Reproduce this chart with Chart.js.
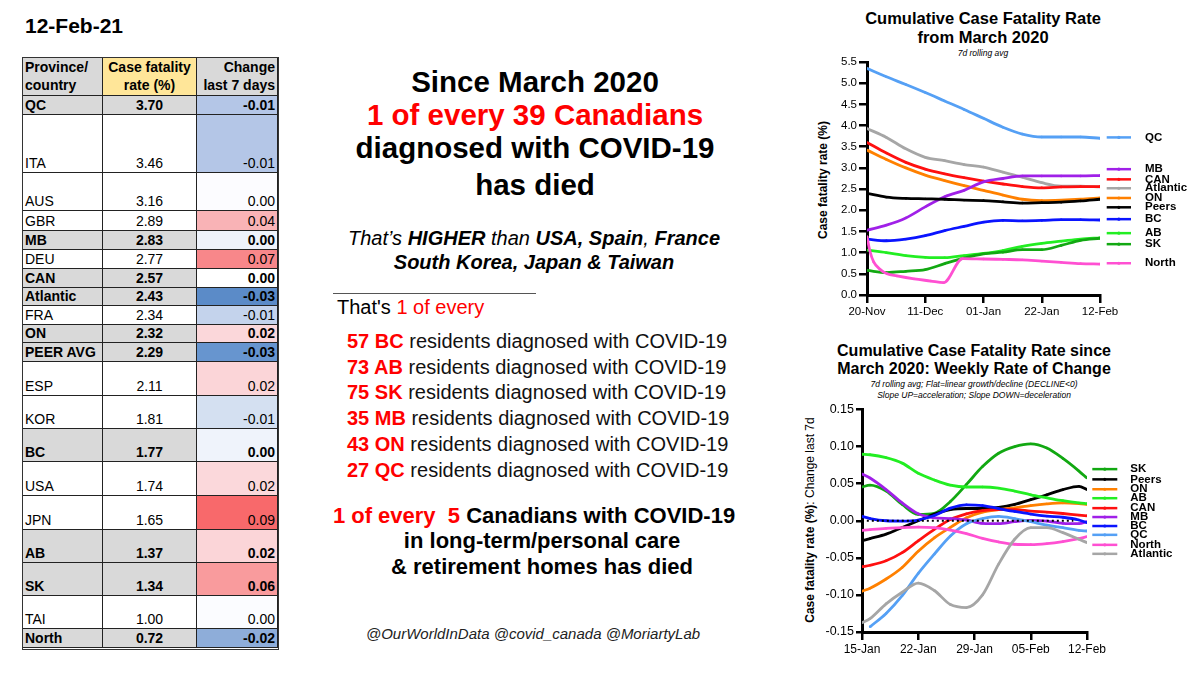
<!DOCTYPE html>
<html>
<head>
<meta charset="utf-8">
<script src="https://cdn.jsdelivr.net/npm/chart.js@4.4.1/dist/chart.umd.min.js"></script>
<style>
  body { margin: 0; width: 1200px; height: 675px; background: #fff; position: relative; overflow: hidden;
         font-family: "Liberation Sans", Arial, sans-serif; color: #000; }
  .abs { position: absolute; white-space: nowrap; }
  .ctr { transform: translateX(-50%); text-align: center; }
  .red { color: #ff0000; }
  .b { font-weight: bold; }
  .cell { position: absolute; box-sizing: border-box; border-right: 1px solid #222; border-bottom: 1px solid #222;
          display: flex; align-items: flex-end; font-size: 14px; line-height: 16px; padding: 0 2px 1px 2px; }
  .head { font-weight: bold; line-height: 18px; }
  .vtitle { position: absolute; white-space: nowrap; font-size: 12px; transform: translate(-50%, -50%) rotate(-90deg); }
  canvas { position: absolute; }
</style>
</head>
<body>

<div class="abs b" style="left:25px; top:14px; font-size:21px;">12-Feb-21</div>
<div id="table"></div>

<!-- middle text -->
<div class="abs ctr b" style="left:535px; top:65px; font-size:29.5px; line-height:34px;">Since March 2020</div>
<div class="abs ctr b red" style="left:535px; top:98px; font-size:29.5px; line-height:34px;">1 of every 39 Canadians</div>
<div class="abs ctr b" style="left:535px; top:131px; font-size:29.5px; line-height:34px;">diagnosed with COVID-19</div>
<div class="abs ctr b" style="left:535px; top:168px; font-size:29.5px; line-height:34px;">has died</div>

<div class="abs ctr" style="left:534px; top:226px; font-size:20px; line-height:24px; font-style:italic;">That’s <b>HIGHER</b> than <b>USA,</b> <b>Spain</b>, <b>France</b></div>
<div class="abs ctr b" style="left:534px; top:250px; font-size:20px; line-height:24px; font-style:italic;">South Korea, Japan &amp; Taiwan</div>
<div class="abs" style="left:333px; top:293px; width:203px; height:0; border-top:1.5px solid #555;"></div>

<div class="abs" style="left:337px; top:295px; font-size:20px; line-height:24px;">That's <span class="red">1 of every</span></div>
<div id="perProvince"></div>

<div class="abs ctr b" style="left:534px; top:503px; font-size:22px; line-height:26px;"><span class="red">1 of every&nbsp; 5</span> Canadians with COVID-19</div>
<div class="abs ctr b" style="left:542px; top:528px; font-size:22px; line-height:26px;">in long-term/personal care</div>
<div class="abs ctr b" style="left:542px; top:554px; font-size:22px; line-height:26px;">&amp; retirement homes has died</div>

<div class="abs ctr" style="left:533px; top:625px; font-size:15px; line-height:18px; font-style:italic; color:#222;">@OurWorldInData @covid_canada @MoriartyLab</div>

<!-- top chart -->
<div class="abs ctr b" style="left:983px; top:8px; font-size:16.5px; line-height:20px;">Cumulative Case Fatality Rate</div>
<div class="abs ctr b" style="left:983px; top:27px; font-size:16.5px; line-height:20px;">from March 2020</div>
<div class="abs ctr" style="left:983px; top:48px; font-size:8.5px; line-height:11px; font-style:italic;">7d rolling avg</div>
<div class="vtitle" style="left:823px; top:180px;"><b>Case fatality rate (%)</b></div>
<canvas id="cfrChart" width="410" height="275" style="left:790px; top:50px;"></canvas>

<!-- bottom chart -->
<div class="abs ctr b" style="left:974px; top:341px; font-size:16px; line-height:20px;">Cumulative Case Fatality Rate since</div>
<div class="abs ctr b" style="left:974px; top:359px; font-size:16px; line-height:20px;">March 2020: Weekly Rate of Change</div>
<div class="abs ctr" style="left:974px; top:379px; font-size:8.5px; line-height:11px; font-style:italic;">7d rolling avg; Flat=linear growth/decline (DECLINE&lt;0)</div>
<div class="abs ctr" style="left:974px; top:390px; font-size:8.5px; line-height:11px; font-style:italic;">Slope UP=acceleration; Slope DOWN=deceleration</div>
<div class="vtitle" style="left:810px; top:520px;"><b>Case fatality rate (%)</b>: Change last 7d</div>
<canvas id="changeChart" width="410" height="275" style="left:790px; top:400px;"></canvas>

<script>
// ---- table data ----
const regions = ['QC', 'ITA', 'AUS', 'GBR', 'MB', 'DEU', 'CAN', 'Atlantic', 'FRA', 'ON', 'PEER AVG',
                 'ESP', 'KOR', 'BC', 'USA', 'JPN', 'AB', 'SK', 'TAI', 'North'];
const fatalityRate = [3.70, 3.46, 3.16, 2.89, 2.83, 2.77, 2.57, 2.43, 2.34, 2.32, 2.29,
                      2.11, 1.81, 1.77, 1.74, 1.65, 1.37, 1.34, 1.00, 0.72];
const change7d = [-0.01, -0.01, 0.00, 0.04, 0.00, 0.07, 0.00, -0.03, -0.01, 0.02, -0.03,
                  0.02, -0.01, 0.00, 0.02, 0.09, 0.02, 0.06, 0.00, -0.02];
const canadianRows = ['QC', 'MB', 'CAN', 'Atlantic', 'ON', 'PEER AVG', 'BC', 'AB', 'SK', 'North'];

// ---- "1 of every N residents" ----
const oneInN = [57, 73, 75, 35, 43, 27];
const oneInNProv = ['BC', 'AB', 'SK', 'MB', 'ON', 'QC'];

// ---- top chart: cumulative CFR, days from 20-Nov ----
const topTickDays = [0, 21, 42, 63, 84];
const topTickLabels = ['20-Nov', '11-Dec', '01-Jan', '22-Jan', '12-Feb'];
const topYTicks = [0, 0.5, 1, 1.5, 2, 2.5, 3, 3.5, 4, 4.5, 5, 5.5];
const topDays = [0, 7, 14, 21, 28, 35, 42, 49, 56, 63, 70, 77, 84];
const qcCfr       = [5.35, 5.15, 4.97, 4.78, 4.58, 4.38, 4.17, 3.96, 3.80, 3.73, 3.73, 3.73, 3.70];
const atlanticCfr = [3.93, 3.72, 3.45, 3.25, 3.17, 3.08, 3.02, 2.90, 2.78, 2.65, 2.57, 2.57, 2.55];
const canCfr      = [3.60, 3.35, 3.13, 2.97, 2.86, 2.77, 2.69, 2.62, 2.56, 2.53, 2.55, 2.56, 2.56];
const onCfr       = [3.42, 3.20, 3.00, 2.83, 2.70, 2.58, 2.47, 2.36, 2.26, 2.23, 2.24, 2.26, 2.29];
const peersCfr    = [2.40, 2.31, 2.28, 2.27, 2.26, 2.24, 2.23, 2.20, 2.17, 2.18, 2.19, 2.22, 2.26];
const mbCfr       = [1.53, 1.65, 1.82, 2.08, 2.32, 2.47, 2.67, 2.75, 2.81, 2.81, 2.81, 2.81, 2.82];
const bcCfr       = [1.32, 1.28, 1.32, 1.40, 1.52, 1.62, 1.72, 1.76, 1.75, 1.76, 1.78, 1.78, 1.77];
const abCfr       = [1.06, 1.00, 0.93, 0.89, 0.88, 0.93, 0.98, 1.05, 1.15, 1.22, 1.27, 1.32, 1.35];
const skCfr       = [0.58, 0.53, 0.56, 0.60, 0.74, 0.87, 0.97, 1.01, 1.07, 1.07, 1.17, 1.29, 1.34];
const northDays   = [0, 1, 2.4, 4.8, 7.2, 10.8, 17, 23, 27.6, 34.5, 42, 49, 56, 63, 70, 77, 84];
const northCfr    = [1.38, 1.05, 0.78, 0.60, 0.50, 0.45, 0.38, 0.33, 0.29, 0.86, 0.85, 0.84, 0.83, 0.80, 0.77, 0.74, 0.73];

// ---- bottom chart: change over last 7 days, days from 15-Jan ----
const botTickDays = [0, 7, 14, 21, 28];
const botTickLabels = ['15-Jan', '22-Jan', '29-Jan', '05-Feb', '12-Feb'];
const botYTicks = [-0.15, -0.10, -0.05, 0, 0.05, 0.10, 0.15];
const botDays = [0, 1, 3, 5, 7, 9, 11, 13, 15, 17, 19, 21, 23, 25, 27, 28];
const skChg       = [0.0455, 0.048, 0.040, 0.022, 0.0085, 0.010, 0.026, 0.049, 0.073, 0.091, 0.100, 0.1036, 0.098, 0.084, 0.067, 0.0576];
const peersChg    = [-0.027, -0.024, -0.018, -0.009, 0.0, 0.009, 0.015, 0.0165, 0.0165, 0.018, 0.022, 0.0286, 0.035, 0.042, 0.0464, 0.042];
const onChg       = [-0.095, -0.091, -0.0786, -0.063, -0.041, -0.023, -0.009, 0.004, 0.0116, 0.015, 0.0174, 0.0205, 0.0228, 0.024, 0.023, 0.022];
const abChg       = [0.0897, 0.089, 0.085, 0.0777, 0.064, 0.055, 0.048, 0.0455, 0.0455, 0.044, 0.040, 0.035, 0.031, 0.027, 0.024, 0.023];
const canChg      = [-0.062, -0.060, -0.054, -0.043, -0.027, -0.0116, 0.0018, 0.0094, 0.0138, 0.015, 0.015, 0.013, 0.0116, 0.0098, 0.0076, 0.0067];
const mbChg       = [0.063, 0.0576, 0.042, 0.024, 0.0094, 0.004, 0.003, 0.001, -0.0036, -0.004, -0.0013, 0.0004, -0.0004, -0.0036, -0.004, -0.0013];
const bcChg       = [0.0058, 0.003, 0.0, -0.0004, 0.001, 0.007, 0.017, 0.0215, 0.0205, 0.0165, 0.0125, 0.009, 0.0063, 0.0047, 0.001, -0.0027];
const qcChg       = [null, -0.143, -0.125, -0.101, -0.071, -0.045, -0.0205, -0.004, 0.003, 0.006, 0.003, -0.0013, -0.0058, -0.0094, -0.013, -0.0138];
const northChg    = [-0.013, -0.012, -0.0103, -0.0094, -0.0085, -0.0094, -0.0125, -0.0174, -0.0237, -0.0286, -0.0317, -0.0321, -0.0308, -0.028, -0.024, -0.0214];
const atlanticChg = [-0.1375, -0.132, -0.112, -0.0964, -0.084, -0.094, -0.113, -0.117, -0.100, -0.0585, -0.025, -0.0094, -0.0094, -0.016, -0.025, -0.0295];
const zeroLineDays = [0.6, 26.3];
const zeroLine = [0, 0];

// ---- styles / layout (not data) ----
const colors = {
  QC: '#55a0f5', MB: '#a020e8', CAN: '#ff1010', Atlantic: '#a6a6a6', ON: '#ff8000',
  Peers: '#000000', BC: '#0a14ff', AB: '#22ee22', SK: '#12a812', North: '#ff50d2'
};
const changeColors = ['#b4c6e7', '#b4c6e7', '#fcfcff', '#f9b3b6', '#eef2fa', '#f8878a', '#ffffff', '#5b8bc8',
                      '#c4d3ec', '#fbd7da', '#6795cf', '#fbd5d8', '#d4e0f1', '#eff3fb', '#fbd8db', '#f8696b',
                      '#fbd5d8', '#f99b9d', '#fbfcff', '#8eadd9'];
const rowHeights = [19, 58, 38, 20, 19, 19, 19, 18, 19, 18, 19, 34, 33, 33, 34, 34, 33, 33, 33, 19];
const colLeft = [23, 103, 197];
const colWidth = [80, 94, 81];

// ---- build table ----
const table = document.getElementById('table');
function addCell(x, y, w, h, html, bg, align, cls) {
  const d = document.createElement('div');
  d.className = 'cell ' + (cls || '');
  d.style.left = x + 'px'; d.style.top = y + 'px';
  d.style.width = w + 'px'; d.style.height = h + 'px';
  d.style.background = bg;
  d.style.justifyContent = align;
  d.innerHTML = html;
  table.appendChild(d);
}
let y = 58;
addCell(colLeft[0], y, colWidth[0], 38, 'Province/<br>country', '#d9d9d9', 'flex-start', 'head');
addCell(colLeft[1], y, colWidth[1], 38, '<div style="text-align:center">Case fatality<br>rate (%)</div>', '#ffe699', 'center', 'head');
addCell(colLeft[2], y, colWidth[2], 38, '<div style="text-align:right">Change<br>last 7 days</div>', '#d9d9d9', 'flex-end', 'head');
y += 38;
regions.forEach((r, i) => {
  const canadian = canadianRows.includes(r);
  const bg = canadian ? '#d9d9d9' : '#ffffff';
  const cls = canadian ? 'b' : '';
  const h = rowHeights[i];
  addCell(colLeft[0], y, colWidth[0], h, r, bg, 'flex-start', cls);
  addCell(colLeft[1], y, colWidth[1], h, fatalityRate[i].toFixed(2), bg, 'center', cls);
  addCell(colLeft[2], y, colWidth[2], h, change7d[i].toFixed(2), changeColors[i], 'flex-end', cls);
  y += h;
});
const frame = document.createElement('div');
frame.style.cssText = `position:absolute;left:${colLeft[0] - 1}px;top:57px;width:${colWidth[0] + colWidth[1] + colWidth[2]}px;height:${y - 57}px;border:1.5px solid #333;border-right:1px solid #333;pointer-events:none;`;
table.appendChild(frame);

// ---- per-province lines ----
const perProv = document.getElementById('perProvince');
oneInN.forEach((n, i) => {
  const d = document.createElement('div');
  d.className = 'abs';
  d.style.cssText = `left:347px;top:${329 + i * 25.7}px;font-size:20px;line-height:25px;color:#111;`;
  d.innerHTML = `<span class="red b">${n} ${oneInNProv[i]}</span> residents diagnosed with COVID-19`;
  perProv.appendChild(d);
});

// ---- charts ----
Chart.defaults.font.family = '"Liberation Sans", Arial, sans-serif';
Chart.defaults.color = '#000';

function series(name, days, values) {
  return {
    label: name,
    data: days.map((d, i) => ({ x: d, y: values[i] })),
    borderColor: colors[name],
    backgroundColor: colors[name],
    borderWidth: 2.8,
    pointRadius: 1.2,
    pointBorderWidth: 0,
    cubicInterpolationMode: 'monotone',
    spanGaps: false
  };
}

function axis(min, max, tickVals, labelFn, fitFn, tickLen, fontSize) {
  return {
    type: 'linear', min: min, max: max,
    afterBuildTicks: s => { s.ticks = tickVals.map(v => ({ value: v })); },
    afterFit: fitFn,
    ticks: { callback: (v, i) => labelFn(i), font: { size: fontSize }, color: '#000', padding: 2, maxRotation: 0, autoSkip: false },
    grid: { display: true, drawOnChartArea: false, drawTicks: true, tickLength: tickLen, color: '#000', lineWidth: 2.5 },
    border: { display: true, color: '#000', width: 3 }
  };
}

function sideLegend(names, anchors, x0, x1, tx) {
  return {
    id: 'sideLegend',
    afterDraw(chart) {
      const ctx = chart.ctx, area = chart.chartArea, ys = chart.scales.y;
      ctx.save();
      names.forEach((name, i) => {
        const py = ys.getPixelForValue(anchors[i]);
        ctx.strokeStyle = colors[name];
        ctx.lineWidth = 2.5;
        ctx.beginPath();
        ctx.moveTo(area.right + x0, py);
        ctx.lineTo(area.right + x1, py);
        ctx.stroke();
        ctx.fillStyle = colors[name];
        ctx.beginPath();
        ctx.arc(area.right + (x0 + x1) / 2, py, 1.6, 0, Math.PI * 2);
        ctx.fill();
        ctx.fillStyle = '#000';
        ctx.font = 'bold 11.5px "Liberation Sans", Arial, sans-serif';
        ctx.textBaseline = 'middle';
        ctx.fillText(name, area.right + tx, py);
      });
      ctx.restore();
    }
  };
}

const topLegend = ['QC', 'MB', 'CAN', 'Atlantic', 'ON', 'Peers', 'BC', 'AB', 'SK', 'North'];
const topLegendAt = [3.72, 2.97, 2.73, 2.52, 2.29, 2.07, 1.79, 1.46, 1.20, 0.75];

new Chart(document.getElementById('cfrChart'), {
  type: 'line',
  data: {
    datasets: [
      series('Peers', topDays, peersCfr),
      series('North', northDays, northCfr),
      series('SK', topDays, skCfr),
      series('AB', topDays, abCfr),
      series('BC', topDays, bcCfr),
      series('MB', topDays, mbCfr),
      series('ON', topDays, onCfr),
      series('CAN', topDays, canCfr),
      series('Atlantic', topDays, atlanticCfr),
      series('QC', topDays, qcCfr)
    ]
  },
  options: {
    responsive: false, animation: false, devicePixelRatio: 1,
    layout: { padding: { left: 0, right: 100, top: 12, bottom: 0 } },
    plugins: { legend: { display: false }, tooltip: { enabled: false } },
    scales: {
      x: axis(0, 84, topTickDays, i => topTickLabels[i], s => { s.height = 30; }, 8, 11.5),
      y: axis(0, 5.5, topYTicks, i => topYTicks[i].toFixed(1), s => { s.width = 77; }, 8, 11.5)
    }
  },
  plugins: [sideLegend(topLegend, topLegendAt, 6.7, 31, 45)]
});

const botLegend = ['SK', 'Peers', 'ON', 'AB', 'CAN', 'MB', 'BC', 'QC', 'North', 'Atlantic'];
const botLegendAt = [0.0696, 0.0558, 0.0425, 0.0304, 0.017, 0.005, -0.0071, -0.019, -0.0325, -0.0446];

const zero = series('Peers', zeroLineDays, zeroLine);
zero.label = 'zero';
zero.borderDash = [2, 3];
zero.borderWidth = 2;
zero.pointRadius = 0;

new Chart(document.getElementById('changeChart'), {
  type: 'line',
  data: {
    datasets: [
      zero,
      series('Atlantic', botDays, atlanticChg),
      series('North', botDays, northChg),
      series('QC', botDays, qcChg),
      series('BC', botDays, bcChg),
      series('MB', botDays, mbChg),
      series('CAN', botDays, canChg),
      series('AB', botDays, abChg),
      series('ON', botDays, onChg),
      series('Peers', botDays, peersChg),
      series('SK', botDays, skChg)
    ]
  },
  options: {
    responsive: false, animation: false, devicePixelRatio: 1,
    layout: { padding: { left: 0, right: 113, top: 8, bottom: 0 } },
    plugins: { legend: { display: false }, tooltip: { enabled: false } },
    scales: {
      x: axis(0, 28, botTickDays, i => botTickLabels[i], s => { s.height = 43; }, 8, 12),
      y: axis(-0.15, 0.15, botYTicks, i => botYTicks[i].toFixed(2), s => { s.width = 72; }, 6, 12.5)
    }
  },
  plugins: [sideLegend(botLegend, botLegendAt, 5.3, 30.3, 43.3)]
});
</script>
</body>
</html>
